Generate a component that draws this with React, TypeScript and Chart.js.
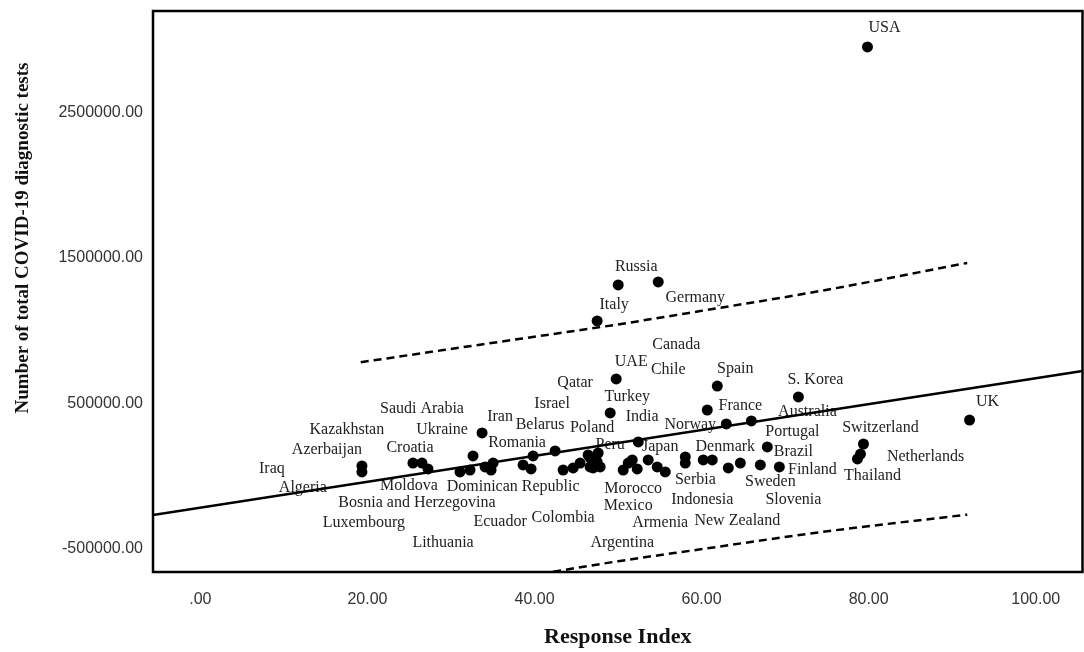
import React, { useEffect, useRef } from "react";
import { Chart, registerables } from "chart.js";

Chart.register(...registerables);

// ---- data ----
const pointX = [79.86, 50.02, 54.81, 47.5, 49.78, 49.06, 61.88, 60.68, 71.59, 62.96, 65.96, 67.87, 79.38, 79.02, 78.66, 92.08, 33.72, 52.42, 19.34, 19.34, 25.45, 26.53, 27.25, 31.08, 32.28, 32.64, 34.08, 35.04, 34.8, 38.63, 39.83, 39.59, 42.47, 43.43, 44.63, 45.46, 46.42, 46.66, 47.02, 47.5, 47.62, 47.86, 46.66, 50.62, 51.22, 51.7, 52.29, 53.61, 54.69, 55.65, 58.05, 58.05, 60.2, 61.28, 63.2, 64.64, 67.03, 69.31];
const pointY = [2953000, 1315000, 1335000, 1067000, 668000, 434000, 619000, 454000, 544000, 358000, 379000, 200000, 220000, 151000, 117000, 385000, 296000, 234000, 69000, 28000, 89000, 89000, 48000, 28000, 41000, 138000, 62000, 89000, 41000, 76000, 138000, 48000, 172000, 41000, 55000, 89000, 145000, 124000, 55000, 96000, 158000, 62000, 62000, 41000, 89000, 110000, 48000, 110000, 62000, 28000, 131000, 89000, 110000, 110000, 55000, 89000, 76000, 62000];

const fitX = [-5.67, 105.6];
const fitY = [-268000, 722600];

const intervalX = [19.2, 38.3, 50, 59.85, 74.2, 91.8];
const upperY = [783000, 944000, 1043000, 1135000, 1273000, 1466000];
const lowerY = [-877000, -697000, -587000, -505000, -387000, -266000];

const labelText = ["USA", "Russia", "Germany", "Italy", "Canada", "UAE", "Chile", "Qatar", "Spain", "S. Korea", "Turkey", "France", "Australia", "Israel", "India", "Saudi Arabia", "Iran", "Belarus", "Poland", "Norway", "UK", "Switzerland", "Kazakhstan", "Ukraine", "Romania", "Portugal", "Azerbaijan", "Croatia", "Peru", "Japan", "Denmark", "Brazil", "Netherlands", "Iraq", "Finland", "Thailand", "Sweden", "Serbia", "Algeria", "Moldova", "Dominican Republic", "Morocco", "Indonesia", "Slovenia", "Bosnia and Herzegovina", "Mexico", "Luxembourg", "Ecuador", "Colombia", "Armenia", "New Zealand", "Lithuania", "Argentina"];
const labelX = [81.89, 52.18, 59.25, 49.54, 56.97, 51.58, 56.01, 44.86, 64.04, 73.63, 51.1, 64.64, 72.67, 42.11, 52.89, 26.53, 35.88, 40.67, 46.9, 58.65, 94.24, 81.41, 17.54, 28.93, 37.91, 70.87, 15.15, 25.09, 49.06, 55.05, 62.84, 70.99, 86.81, 8.56, 73.27, 80.46, 68.23, 59.25, 12.27, 24.97, 37.44, 51.82, 60.08, 70.99, 25.93, 51.22, 19.58, 35.88, 43.43, 55.05, 64.28, 29.05, 50.5];
const labelY = [3083000, 1438000, 1225000, 1177000, 901600, 784600, 729500, 640000, 736400, 660700, 543700, 481800, 440500, 495500, 406000, 461100, 406000, 351000, 330300, 351000, 509300, 330300, 316600, 316600, 227100, 302800, 179000, 192700, 213400, 199600, 199600, 165200, 130800, 48200, 41300, 0, -41300, -27500, -82600, -68800, -75700, -89500, -165200, -165200, -185800, -206500, -323500, -316600, -289100, -323500, -309700, -461100, -461100];

const xTicks = [0, 20, 40, 60, 80, 100];
const yTicks = [-500000, 500000, 1500000, 2500000];
const xTitle = "Response Index";
const yTitle = "Number of total COVID-19 diagnostic tests";

const decor = {
  id: "decor",
  beforeDatasetsDraw(chart: any) {
    const { ctx, scales } = chart;
    const x = scales.x, y = scales.y;
    ctx.save();
    ctx.font = '16px "Liberation Serif"';
    ctx.fillStyle = "#222";
    ctx.textAlign = "center";
    ctx.textBaseline = "middle";
    labelText.forEach((t, i) => {
      ctx.fillText(t, x.getPixelForValue(labelX[i]), y.getPixelForValue(labelY[i]));
    });
    ctx.restore();
  },
  afterDraw(chart: any) {
    const { ctx, chartArea: a } = chart;
    ctx.save();
    ctx.lineWidth = 2.5;
    ctx.strokeStyle = "#000";
    ctx.strokeRect(a.left, a.top, a.right - a.left, a.bottom - a.top);
    ctx.fillStyle = "#111";
    ctx.textAlign = "center";
    ctx.textBaseline = "middle";
    ctx.font = 'bold 22px "Liberation Serif"';
    ctx.fillText(xTitle, (a.left + a.right) / 2, 637);
    ctx.translate(23, 238);
    ctx.rotate(-Math.PI / 2);
    ctx.font = 'bold 19px "Liberation Serif"';
    ctx.fillText(yTitle, 0, 0);
    ctx.restore();
  },
};

export default function App() {
  const ref = useRef<HTMLCanvasElement>(null);
  useEffect(() => {
    if (!ref.current) return;
    const chart = new Chart(ref.current, {
      type: "scatter",
      data: {
        datasets: [
          {
            data: pointX.map((v, i) => ({ x: v, y: pointY[i] })),
            backgroundColor: "#000",
            borderWidth: 0,
            pointRadius: 5.5,
            order: 0,
          },
          {
            data: fitX.map((v, i) => ({ x: v, y: fitY[i] })),
            showLine: true,
            borderColor: "#000",
            borderWidth: 2.5,
            pointRadius: 0,
            order: 1,
          },
          {
            data: intervalX.map((v, i) => ({ x: v, y: upperY[i] })),
            showLine: true,
            borderColor: "#000",
            borderWidth: 2.5,
            borderDash: [8, 5],
            pointRadius: 0,
            cubicInterpolationMode: "monotone",
            order: 2,
          },
          {
            data: intervalX.map((v, i) => ({ x: v, y: lowerY[i] })),
            showLine: true,
            borderColor: "#000",
            borderWidth: 2.5,
            borderDash: [8, 5],
            pointRadius: 0,
            cubicInterpolationMode: "monotone",
            order: 3,
          },
        ] as any,
      },
      options: {
        animation: false,
        responsive: false,
        layout: { padding: { top: 11, right: 2, left: 0, bottom: 0 } },
        plugins: { legend: { display: false }, tooltip: { enabled: false } },
        scales: {
          x: {
            type: "linear",
            min: -5.67,
            max: 105.6,
            afterBuildTicks: (s: any) => {
              s.ticks = xTicks.map((v) => ({ value: v }));
            },
            afterFit: (s: any) => {
              s.height = 80;
              s.paddingLeft = 0;
              s.paddingRight = 0;
            },
            ticks: {
              callback: (v: any) => (Number(v) === 0 ? ".00" : Number(v).toFixed(2)),
              font: { family: '"Liberation Sans", Arial, sans-serif', size: 16 },
              color: "#333",
              padding: 18,
              maxRotation: 0,
              autoSkip: false,
            },
            grid: { display: false, drawTicks: false },
            border: { display: false },
          },
          y: {
            type: "linear",
            min: -661000,
            max: 3200000,
            afterBuildTicks: (s: any) => {
              s.ticks = yTicks.map((v) => ({ value: v }));
            },
            afterFit: (s: any) => {
              s.width = 153;
              s.paddingTop = 0;
              s.paddingBottom = 0;
            },
            ticks: {
              callback: (v: any) => Number(v).toFixed(2),
              font: { family: '"Liberation Sans", Arial, sans-serif', size: 16 },
              color: "#333",
              padding: 10,
              autoSkip: false,
            },
            grid: { display: false, drawTicks: false },
            border: { display: false },
          },
        },
      } as any,
      plugins: [decor],
    });
    return () => chart.destroy();
  }, []);
  return (
    <div style={{ position: "absolute", left: 0, top: 0, width: 1084, height: 652, overflow: "hidden", background: "#fff" }}>
      <canvas ref={ref} width={1088} height={652} style={{ display: "block" }} />
    </div>
  );
}
